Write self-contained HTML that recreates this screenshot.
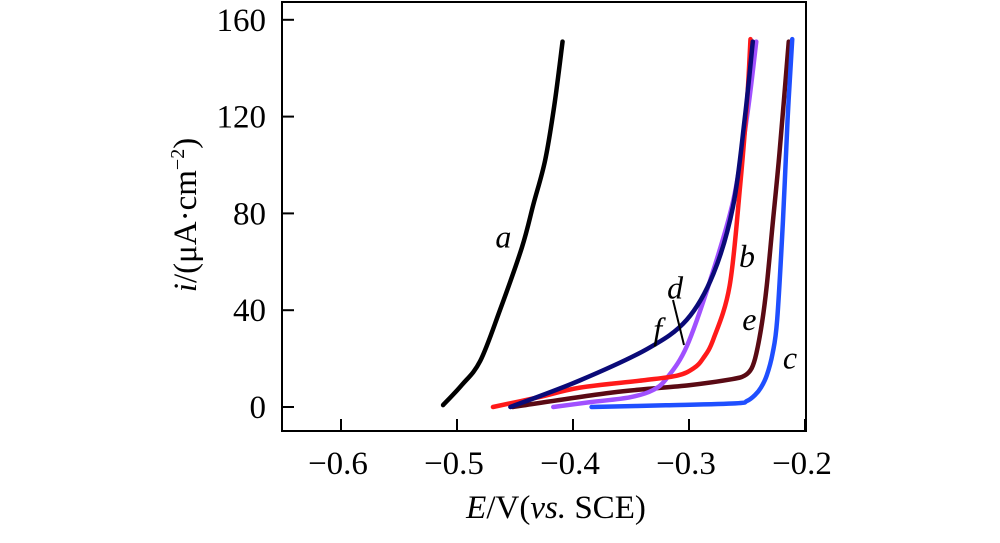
<!DOCTYPE html>
<html><head><meta charset="utf-8"><style>
body{margin:0;background:#fff;}
svg{display:block;font-family:"Liberation Serif",serif;}
</style></head><body>
<svg id="chart" width="1000" height="543"></svg>
<script>
const xTicks=[-0.6,-0.5,-0.4,-0.3,-0.2];
const yTicks=[0,40,80,120,160];
const seriesNames=['a','b','c','d','e','f'];
const colors={a:'#000000',b:'#ff1a1a',c:'#1f4fff',d:'#0a0a78',e:'#5a0a14',f:'#a050ff'};
const aX=[-0.512,-0.496,-0.48,-0.463,-0.444,-0.434,-0.424,-0.416,-0.409];
const aY=[0.8,9,19,40,66,84,102,125,151];
const bX=[-0.469,-0.43,-0.394,-0.34,-0.31,-0.296,-0.288,-0.279,-0.265,-0.256,-0.25,-0.247];
const bY=[0,4,8,11,13,16,20,28,50,91,126,152];
const cX=[-0.384,-0.32,-0.26,-0.25,-0.243,-0.238,-0.233,-0.228,-0.224,-0.219,-0.215,-0.211];
const cY=[0,0.7,1.5,2.5,5,8,13,22,36,77,119,152];
const dX=[-0.454,-0.394,-0.336,-0.302,-0.279,-0.262,-0.252,-0.245];
const dY=[0,11,24,36,55,83,119,151];
const eX=[-0.452,-0.366,-0.3,-0.263,-0.252,-0.246,-0.242,-0.237,-0.233,-0.228,-0.222,-0.214];
const eY=[0,6,9,11.5,13,16,22,35,50,75,105,151];
const fX=[-0.417,-0.385,-0.351,-0.331,-0.319,-0.302,-0.282,-0.262,-0.25,-0.242];
const fY=[0,2,4,7,12,25,52,85,120,151];
const data={a:[aX,aY],b:[bX,bY],c:[cX,cY],d:[dX,dY],e:[eX,eY],f:[fX,fY]};
const drawOrder=['a','e','c','f','b','d'];
const labelX={a:-0.46,b:-0.25,c:-0.213,d:-0.312,e:-0.248,f:-0.327};
const labelI={a:70,b:62,c:20,d:49,e:36,f:32};
const L=282,R=806,T=2,B=431;
const sx=v=>341+(v+0.6)*1160;
const sy=v=>407-v*2.42;
const svg=document.getElementById('chart');
const NS='http://www.w3.org/2000/svg';
function mk(t,a){const e=document.createElementNS(NS,t);for(const k in a)e.setAttribute(k,a[k]);svg.appendChild(e);return e;}
const frame=mk('rect',{x:L,y:T,width:R-L,height:B-T,fill:'none',stroke:'#000','stroke-width':2});


xTicks.forEach(v=>{
  const ln=mk('line',{x1:sx(v),x2:sx(v),y1:B,y2:B-12,stroke:'#000','stroke-width':2});
  
  
  const t=mk('text',{x:sx(v)-3,y:474,'text-anchor':'middle','font-size':33});
  t.textContent='\u2212'+Math.abs(v).toFixed(1);
  
  
});
yTicks.forEach(v=>{
  const ln=mk('line',{x1:L,x2:L+12,y1:sy(v),y2:sy(v),stroke:'#000','stroke-width':2});
  
  
  const t=mk('text',{x:266,y:sy(v)+11,'text-anchor':'end','font-size':33});
  t.textContent=String(v);
  
  
});
drawOrder.forEach(n=>{
  const [xs,ys]=data[n];
  const d=xs.map((x,i)=>[sx(x),sy(ys[i])]);
  let p='M'+d[0][0]+','+d[0][1];
  for(let i=0;i<d.length-1;i++){
    const p0=d[Math.max(0,i-1)],p1=d[i],p2=d[i+1],p3=d[Math.min(d.length-1,i+2)];
    const c1=[p1[0]+(p2[0]-p0[0])/6,p1[1]+(p2[1]-p0[1])/6];
    const c2=[p2[0]-(p3[0]-p1[0])/6,p2[1]-(p3[1]-p1[1])/6];
    p+=' C'+c1+' '+c2+' '+p2;
  }
  const path=mk('path',{d:p,fill:'none',stroke:colors[n],'stroke-width':4.5,'stroke-linecap':'round','stroke-linejoin':'round'});
  
  
});
seriesNames.forEach(n=>{
  const t=mk('text',{x:sx(labelX[n]),y:sy(labelI[n])+10,'text-anchor':'middle','font-size':32,'font-style':'italic'});
  t.textContent=n;
  
  
});
const lead=mk('line',{x1:673,y1:300,x2:684,y2:345,stroke:'#000','stroke-width':2});


const xl=mk('text',{x:556,y:518,'text-anchor':'middle','font-size':33});
xl.innerHTML='<tspan font-style="italic">E</tspan>/V(<tspan font-style="italic">vs.</tspan> SCE)';


const yl=mk('text',{x:0,y:0,'text-anchor':'middle','font-size':33,transform:'translate(196,215) rotate(-90)'});
yl.innerHTML='<tspan font-style="italic">i</tspan>/(\u03bcA\u00b7cm<tspan font-size="20" dy="-12">\u22122</tspan><tspan dy="12">)</tspan>';


</script>
</body></html>
